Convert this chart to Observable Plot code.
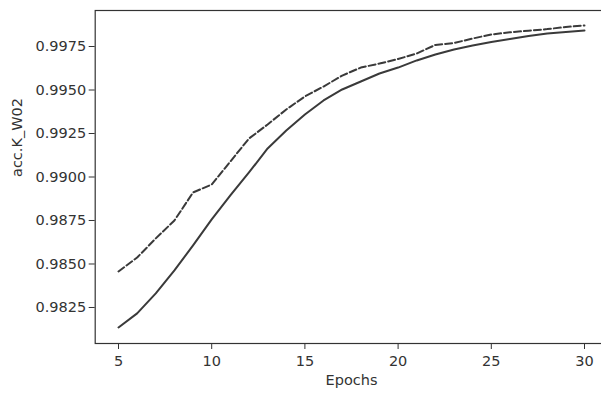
<!DOCTYPE html>
<html>
<head>
<meta charset="utf-8">
<script src="https://cdn.jsdelivr.net/npm/d3@7"></script>
<script src="https://cdn.jsdelivr.net/npm/@observablehq/plot@0.6"></script>
<style>
  html, body { margin: 0; padding: 0; background: #fff; overflow: hidden; width: 601px; height: 394px; }
  #chart svg { display: block; max-width: none !important; }
</style>
</head>
<body>
<div id="chart"></div>
<script>
const epochs = [5, 6, 7, 8, 9, 10, 11, 12, 13, 14, 15, 16, 17, 18, 19, 20, 21, 22, 23, 24, 25, 26, 27, 28, 29, 30];
const accSolid = [0.98135, 0.98216, 0.98331, 0.98463, 0.98607, 0.98756, 0.98894, 0.99026, 0.99164, 0.99267,
                  0.99359, 0.99440, 0.99503, 0.99549, 0.99595, 0.99629, 0.99670, 0.99704, 0.99733, 0.99756,
                  0.99776, 0.99793, 0.99810, 0.99825, 0.99833, 0.99842];
const accDashed = [0.98457, 0.98537, 0.98647, 0.98750, 0.98911, 0.98957, 0.99089, 0.99221, 0.99302, 0.99388,
                   0.99463, 0.99520, 0.99583, 0.99629, 0.99652, 0.99678, 0.99710, 0.99759, 0.99770, 0.99796,
                   0.99819, 0.99832, 0.99841, 0.99850, 0.99862, 0.99871];
const xTicks = [5, 10, 15, 20, 25, 30];
const yTicks = [0.9825, 0.9850, 0.9875, 0.9900, 0.9925, 0.9950, 0.9975];
const xLabel = "Epochs";
const yLabel = "acc.K_W02";

const rows = epochs.map((e, i) => ({epoch: e, solid: accSolid[i], dashed: accDashed[i]}));

const chart = Plot.plot({
  width: 620,
  height: 394,
  marginLeft: 94.7,
  marginRight: 12.7,
  marginTop: 10,
  marginBottom: 51,
  style: {fontFamily: "DejaVu Sans", fontSize: "14px", color: "#333", background: "white", maxWidth: "none"},
  x: {domain: [3.75, 31.25]},
  y: {domain: [0.98043, 0.99957]},
  marks: [
    Plot.axisX({ticks: xTicks, tickSize: 6, tickPadding: 6, label: null, fontSize: 14.5}),
    Plot.axisY({ticks: yTicks, tickFormat: d3.format(".4f"), tickSize: 6, tickPadding: 3, label: null, fontSize: 14.5}),
    Plot.line(rows, {x: "epoch", y: "solid", stroke: "#3a3a3a", strokeWidth: 2}),
    Plot.line(rows, {x: "epoch", y: "dashed", stroke: "#3a3a3a", strokeWidth: 2, strokeDasharray: "7,3"}),
    Plot.frame({stroke: "#333", strokeWidth: 1.2}),
    Plot.text([yLabel], {frameAnchor: "left", dx: -78, rotate: -90, text: d => d, fontSize: 14.5, fill: "#333"}),
    Plot.text([xLabel], {frameAnchor: "bottom", dy: 41, text: d => d, fontSize: 14.5, fill: "#333"})
  ]
});
document.getElementById("chart").appendChild(chart);
</script>
</body>
</html>
